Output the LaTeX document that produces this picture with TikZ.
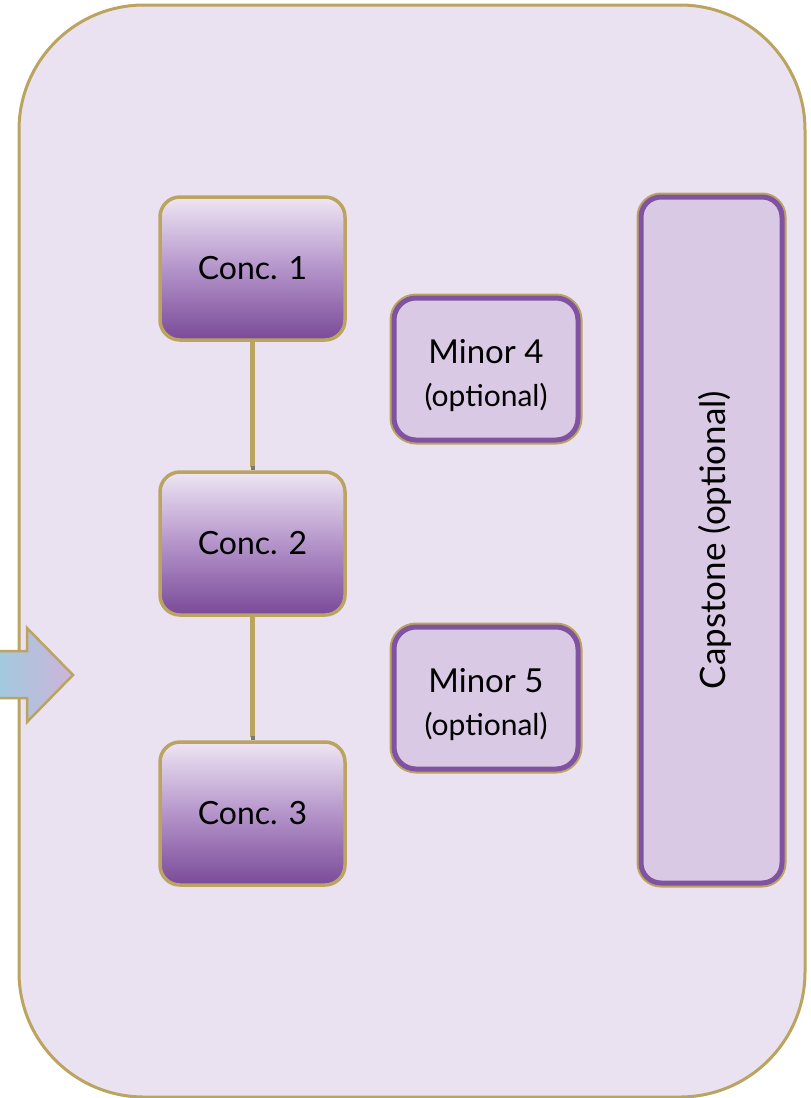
\documentclass[tikz,border=0pt]{standalone}
\usepackage{fontspec}
\usepackage{graphicx}
\setmainfont{Lato}
\usetikzlibrary{shadows,arrows.meta}
\definecolor{gold}{RGB}{186,164,96}
\definecolor{bgl}{RGB}{234,226,240}
\definecolor{ctop}{RGB}{238,230,243}
\definecolor{cmid}{RGB}{180,148,202}
\definecolor{cbot}{RGB}{122,74,152}
\definecolor{mfill}{RGB}{217,201,228}
\definecolor{mline}{RGB}{128,82,162}
\definecolor{ablue}{RGB}{160,202,222}
\definecolor{apurp}{RGB}{206,180,218}
\definecolor{shad}{RGB}{172,164,140}
\definecolor{tipgray}{RGB}{120,120,120}
\begin{document}
\begin{tikzpicture}[x=1pt,y=-1pt,
  framebox/.style={draw=gold, line width=3pt, fill=bgl, rounded corners=125pt,
    minimum width=786pt, minimum height=1092pt, inner sep=0pt},
  concbox/.style={rounded corners=20pt, draw=gold, line width=3.5pt,
    top color=ctop, bottom color=cbot, middle color=cmid,
    minimum width=185pt, minimum height=143pt, inner sep=0pt,
    font=\fontsize{32}{38}\selectfont, text=black},
  minorbox/.style={rounded corners=22pt, fill=mfill, draw=mline, line width=5pt,
    drop shadow={shadow xshift=0pt, shadow yshift=-3pt, fill=shad, opacity=1},
    preaction={draw=gold, line width=9pt},
    inner sep=0pt, align=center, text=black,
    font=\fontsize{33}{39}\selectfont},
  link/.style={draw=gold, line width=4.5pt,
    -{Square[length=4pt,width=4pt,fill=tipgray,color=tipgray]}},
  flowarrow/.style={draw=gold, line width=2.5pt, left color=ablue, right color=apurp, line join=miter}
]
\useasboundingbox (0,0) rectangle (811,1098);
\node[framebox] (frame) at (412,551) {};
\draw[flowarrow] (-3,651) -- (27,651) -- (27,628) -- (73,675) -- (27,722) -- (27,698) -- (-3,698) -- cycle;
\node[concbox] (c1) at (252.5,268.5) {Conc. 1};
\node[concbox] (c2) at (252.5,543.5) {Conc. 2};
\node[concbox] (c3) at (252.5,813.5) {Conc. 3};
\node[minorbox, text height=80pt, minimum width=184pt, minimum height=142pt] (m4) at (486,369)
  {Minor 4\\[4pt]{\fontsize{30}{36}\selectfont (optional)}};
\node[minorbox, text height=80pt, minimum width=184pt, minimum height=142pt] (m5) at (486,698)
  {Minor 5\\[4pt]{\fontsize{30}{36}\selectfont (optional)}};
\node[minorbox, rounded corners=20pt, minimum width=141pt, minimum height=686pt,
  font=\fontsize{35}{40}\selectfont] (cap) at (711.5,540)
  {\rotatebox{90}{\raisebox{0pt}[\height][0pt]{Capstone (optional)}}};
\draw[link] (c1.south) -- (c2.north);
\draw[link] (c2.south) -- (c3.north);
\end{tikzpicture}
\end{document}
